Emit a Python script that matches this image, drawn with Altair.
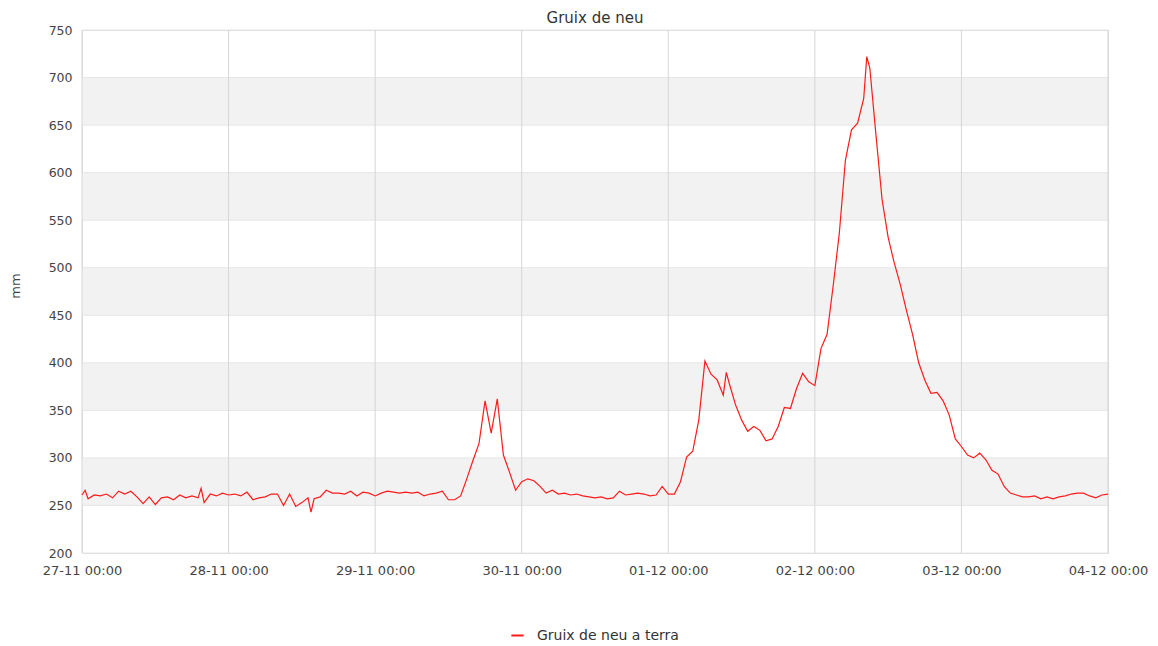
import altair as alt
import pandas as pd

# ---- data (snow depth, mm) ----
start = "2023-11-27"
hours = list(range(169))
depth = [
    261, 257, 261, 260, 262, 258, 265, 262, 265, 259, 252, 259, 251, 258, 259, 256, 261, 258, 260, 258, 253, 262, 260, 263,
    261, 262, 260, 264, 256, 258, 259, 262, 262, 250, 262, 249, 253, 258, 257, 259, 266, 263, 263, 262, 265, 260, 264, 263,
    260, 263, 265, 264, 263, 264, 263, 264, 260, 262, 263, 265, 256, 256, 260, 278, 297, 315, 360, 326, 362, 303, 285, 266,
    275, 278, 276, 270, 263, 266, 262, 263, 261, 262, 260, 259, 258, 259, 257, 258, 265, 261, 262, 263, 262, 260, 261, 270,
    262, 262, 275, 301, 307, 340, 402, 388, 382, 366, 378, 356, 340, 328, 333, 329, 318, 320, 333, 353, 352, 373, 389, 380,
    376, 415, 430, 481, 536, 613, 645, 652, 678, 710, 640, 572, 532, 505, 482, 455, 430, 400, 382, 368, 369, 360, 345, 320,
    312, 303, 300, 305, 298, 287, 283, 270, 263, 261, 259, 259, 260, 257, 259, 257, 259, 260, 262, 263, 263, 260, 258, 261,
    262,
]
extra_hours = [0.5, 19.5, 37.5, 105.5, 128.5]
extra_depth = [266, 268, 243, 390, 722]

series_name = "Gruix de neu a terra"
y_ticks = list(range(200, 751, 50))
band_lo = [250, 350, 450, 550, 650]
band_hi = [300, 400, 500, 600, 700]
day_labels = ["2023-11-27", "2023-11-28", "2023-11-29", "2023-11-30",
              "2023-12-01", "2023-12-02", "2023-12-03", "2023-12-04"]

# ---- tables ----
all_h = hours + extra_hours
all_v = depth + extra_depth
t0 = pd.Timestamp(start)
df = pd.DataFrame({"h": all_h, "v": all_v}).sort_values("h")
df["t"] = [(t0 + pd.Timedelta(hours=float(h))).strftime("%Y-%m-%dT%H:%M:%S") for h in df["h"]]
df["series"] = series_name

first_day = day_labels[0] + "T00:00:00"
last_day = day_labels[-1] + "T00:00:00"
bands = pd.DataFrame({"lo": band_lo, "hi": band_hi, "t0": first_day, "t1": last_day})
days = pd.DataFrame({"t": [d + "T00:00:00" for d in day_labels]})
hgrid = pd.DataFrame({"v": y_ticks})

def dt(s):
    ts = pd.Timestamp(s)
    return alt.DateTime(year=ts.year, month=ts.month, date=ts.day, hours=0)

x_domain = [dt(day_labels[0]), dt(day_labels[-1])]
x_values = [dt(d) for d in day_labels]

W, H = 1026, 523
xscale = alt.Scale(domain=x_domain, nice=False)
yscale = alt.Scale(domain=[200, 750], nice=False, zero=False)

xaxis = alt.Axis(
    values=x_values,
    format="%d-%m %H:%M",
    title=None,
    grid=False,
    ticks=False,
    tickSize=0,
    domain=False,
    labelAngle=0,
    labelFlush=False,
    labelOverlap=False,
    labelBound=False,
    labelPadding=11,
    labelFontSize=13,
    labelColor="#444444",
    labelFont="DejaVu Sans",
)
yaxis = alt.Axis(
    values=y_ticks,
    title="mm",
    grid=False,
    ticks=False,
    tickSize=0,
    domain=False,
    labelPadding=10,
    labelFontSize=12.5,
    labelColor="#444444",
    labelFont="DejaVu Sans",
    titleFont="DejaVu Sans",
    titleFontSize=13,
    titleFontWeight="normal",
    titleColor="#444444",
    titleAngle=270,
    titleX=-67,
    titleY=H / 2 - 6,
    titleAlign="center",
    titleBaseline="middle",
)

band_layer = alt.Chart(bands).mark_rect(color="#f2f2f2").encode(
    x=alt.X("t0:T", scale=xscale, axis=xaxis),
    x2="t1:T",
    y=alt.Y("lo:Q", scale=yscale, axis=yaxis),
    y2="hi:Q",
)

hgrid_layer = alt.Chart(hgrid).mark_rule(color="#e6e6e6", strokeWidth=1).encode(
    y=alt.Y("v:Q", scale=yscale, axis=yaxis),
)

vgrid_layer = alt.Chart(days).mark_rule(color="#d6d6d6", strokeWidth=1).encode(
    x=alt.X("t:T", scale=xscale, axis=xaxis),
)

line_layer = alt.Chart(df).mark_line(strokeWidth=1.2, interpolate="linear").encode(
    x=alt.X("t:T", scale=xscale, axis=xaxis),
    y=alt.Y("v:Q", scale=yscale, axis=yaxis),
    color=alt.Color(
        "series:N",
        scale=alt.Scale(domain=[series_name], range=["#ff1a1a"]),
        legend=alt.Legend(
            orient="none",
            legendX=428,
            legendY=598,
            title=None,
            symbolType="stroke",
            symbolStrokeWidth=2,
            symbolSize=150,
            labelOffset=12,
            labelFontSize=14,
            labelFont="DejaVu Sans",
            labelColor="#333333",
            padding=0,
        ),
    ),
)

chart = (
    alt.layer(band_layer, hgrid_layer, vgrid_layer, line_layer)
    .properties(
        width=W,
        height=H,
        title=alt.TitleParams(
            "Gruix de neu",
            font="DejaVu Sans",
            fontSize=15,
            fontWeight="normal",
            color="#333333",
            anchor="middle",
            frame="group",
            offset=6,
            dy=8,
        ),
        autosize=alt.AutoSizeParams(type="none"),
        padding={"left": 74, "top": 22, "right": 42, "bottom": 90},
    )
    .configure_view(stroke="#dcdcdc", strokeWidth=1)
    .configure(font="DejaVu Sans", background="white")
)

chart.save("out.html", embed_options={"renderer": "svg", "actions": False})
